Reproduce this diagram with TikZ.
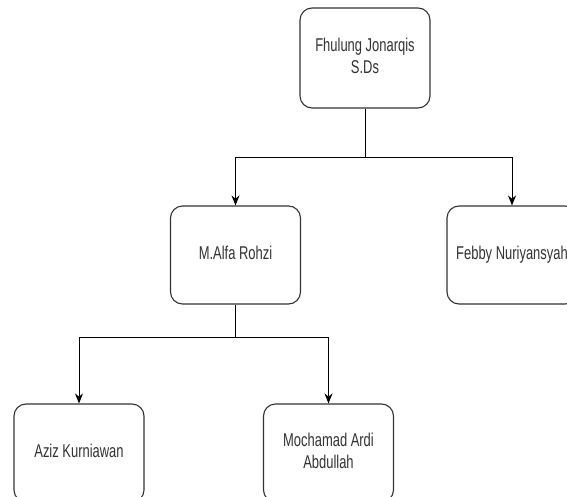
\documentclass[tikz,border=0pt]{standalone}
\usepackage{fontspec}
\setmainfont{Liberation Sans}
\usetikzlibrary{arrows.meta}
\newcommand{\nm}[1]{\scalebox{0.7}[1]{\fontsize{18.5}{22}\selectfont\begin{tabular}{@{}c@{}}#1\end{tabular}}}
\tikzset{
  person/.style={draw=black!80, line width=1.1pt, rounded corners=12pt, fill=white,
    minimum width=130pt, minimum height=98pt, inner sep=0pt, text=black!80},
  link/.style={draw=black, line width=0.9pt, -{Stealth[length=10pt,width=8pt]}},
  plain/.style={draw=black, line width=0.9pt}
}
\begin{document}
\begin{tikzpicture}[x=1pt,y=-1pt]
\useasboundingbox (0,0) rectangle (567,497);
\clip (0,0) rectangle (567,497);
\fill[white] (0,0) rectangle (567,497);
\node[person, minimum height=100pt] (top) at (365,58) {\nm{Fhulung Jonarqis\\S.Ds}};
\node[person] (alfa) at (235.5,255) {\nm{M.Alfa Rohzi}};
\node[person] (febby) at (512,255) {\nm{Febby Nuriyansyah}};
\node[person] (aziz) at (79,453) {\nm{Aziz Kurniawan}};
\node[person] (moch) at (328.5,453) {\nm{Mochamad Ardi\\Abdullah}};
\coordinate (j1) at (365,157);
\coordinate (j2) at (235.5,337);
\draw[plain] (top.south) -- (j1);
\draw[link] (j1) -| (alfa.north);
\draw[link] (j1) -| (febby.north);
\draw[plain] (alfa.south) -- (j2);
\draw[link] (j2) -| (aziz.north);
\draw[link] (j2) -| (moch.north);
\end{tikzpicture}
\end{document}
